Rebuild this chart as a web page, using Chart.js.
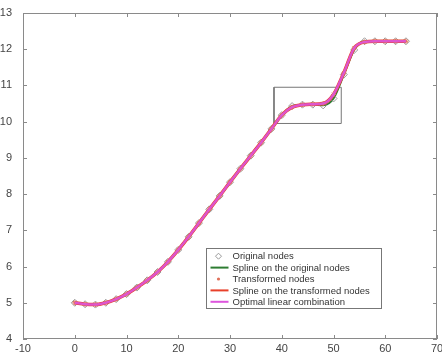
<!DOCTYPE html>
<html lang="en">
<head>
<meta charset="UTF-8">
<title>Spline nodes</title>
<script src="https://cdn.jsdelivr.net/npm/chart.js@4"></script>
<style>
  html, body { margin: 0; padding: 0; background: #fff; overflow: hidden; }
  #wrap { width: 442px; height: 355px; }
</style>
</head>
<body>
<div id="wrap"><canvas id="chart"></canvas></div>
<script>
// node abscissae
const nodeX = [0,2,4,6,8,10,12,14,16,18,20,22,24,26,28,30,32,34,36,38,40,42,44,46,48,50,52,54,56,58,60,62,64];
// original nodes (grey diamonds)
const origY = [5.0,4.96,4.95,5.0,5.1,5.24,5.42,5.62,5.85,6.13,6.46,6.82,7.2,7.58,7.95,8.33,8.7,9.06,9.42,9.8,10.18,10.43,10.47,10.47,10.45,10.64,11.3,11.98,12.22,12.22,12.22,12.22,12.22];
// transformed nodes (follow the curve)
const transY = [5.0,4.96,4.95,5.0,5.1,5.24,5.42,5.62,5.85,6.13,6.46,6.82,7.2,7.58,7.95,8.33,8.7,9.06,9.42,9.8,10.18,10.4,10.47,10.48,10.5,10.75,11.35,12.03,12.2,12.22,12.22,12.22,12.22];
// zoom box corners
const boxX = [38.5,51.5,51.5,38.5,38.5];
const boxY = [9.95,9.95,10.95,10.95,9.95];

const xTicks = [-10,0,10,20,30,40,50,60,70];
const yTicks = [4,5,6,7,8,9,10,11,12,13];

const legendItems = [
  {label: 'Original nodes', kind: 'diamond', color: '#9a9a9a'},
  {label: 'Spline on the original nodes', kind: 'line', color: '#2e7d32'},
  {label: 'Transformed nodes', kind: 'star', color: '#e0705a'},
  {label: 'Spline on the transformed nodes', kind: 'line', color: '#e8402a'},
  {label: 'Optimal linear combination', kind: 'line', color: '#dd55dd'}
];

function pts(xs, ys) { return xs.map((x, i) => ({x: x, y: ys[i]})); }

const FONT = '"Liberation Sans", Arial, sans-serif';

// MATLAB style frame, inward ticks, x labels and legend
const boxTicks = {
  id: 'boxTicks',
  afterDraw(chart) {
    const ctx = chart.ctx, a = chart.chartArea;
    const sx = chart.scales.x, sy = chart.scales.y;
    ctx.save();
    ctx.strokeStyle = '#8a8a8a';
    ctx.lineWidth = 1;
    ctx.strokeRect(a.left + 0.5, a.top + 0.5, a.right - a.left - 1, a.bottom - a.top - 1);
    ctx.beginPath();
    xTicks.forEach(v => {
      const px = Math.round(sx.getPixelForValue(v)) + 0.5;
      ctx.moveTo(px, a.bottom); ctx.lineTo(px, a.bottom - 4);
      ctx.moveTo(px, a.top); ctx.lineTo(px, a.top + 4);
    });
    yTicks.forEach(v => {
      const py = Math.round(sy.getPixelForValue(v)) + 0.5;
      ctx.moveTo(a.left, py); ctx.lineTo(a.left + 4, py);
      ctx.moveTo(a.right, py); ctx.lineTo(a.right - 4, py);
    });
    ctx.stroke();

    // x tick labels
    ctx.fillStyle = '#444';
    ctx.font = '11px ' + FONT;
    ctx.textAlign = 'center';
    ctx.textBaseline = 'middle';
    xTicks.forEach(v => {
      ctx.fillText(String(v), sx.getPixelForValue(v), a.bottom + 10);
    });

    // legend box inside the axes
    ctx.textAlign = 'left';
    const lx = Math.round(sx.getPixelForValue(25.3)) + 0.5;
    const ly = Math.round(sy.getPixelForValue(6.5)) + 0.5;
    const w = 175, rowH = 11.4, h = legendItems.length * rowH + 3;
    ctx.fillStyle = '#fff';
    ctx.fillRect(lx, ly, w, h);
    ctx.strokeStyle = '#777';
    ctx.strokeRect(lx, ly, w, h);
    ctx.font = '9.5px ' + FONT;
    legendItems.forEach((it, i) => {
      const cy = ly + 2 + rowH * (i + 0.5);
      const sxm = lx + 12;
      ctx.strokeStyle = it.color;
      ctx.fillStyle = it.color;
      if (it.kind === 'line') {
        ctx.lineWidth = 2;
        ctx.beginPath(); ctx.moveTo(lx + 4, cy); ctx.lineTo(lx + 22, cy); ctx.stroke();
      } else if (it.kind === 'diamond') {
        ctx.lineWidth = 1;
        ctx.beginPath();
        ctx.moveTo(sxm, cy - 3); ctx.lineTo(sxm + 3, cy); ctx.lineTo(sxm, cy + 3); ctx.lineTo(sxm - 3, cy); ctx.closePath();
        ctx.stroke();
      } else {
        ctx.beginPath(); ctx.arc(sxm, cy, 1.6, 0, Math.PI * 2); ctx.fill();
      }
      ctx.fillStyle = '#333';
      ctx.fillText(it.label, lx + 26, cy + 0.5);
    });
    ctx.restore();
  }
};

new Chart(document.getElementById('chart'), {
  type: 'scatter',
  data: {
    datasets: [
      {
        data: pts(boxX, boxY), showLine: true, tension: 0,
        borderColor: '#777', borderWidth: 1, pointRadius: 0, order: 5
      },
      {
        label: 'Spline on the original nodes',
        data: pts(nodeX, origY), showLine: true, cubicInterpolationMode: 'monotone',
        borderColor: '#2e7d32', borderWidth: 2, pointRadius: 0, order: 4
      },
      {
        label: 'Original nodes',
        data: pts(nodeX, origY), showLine: false,
        pointStyle: 'rectRot', pointRadius: 3.5, borderColor: '#9a9a9a', borderWidth: 1,
        backgroundColor: 'rgba(0,0,0,0)', order: 3
      },
      {
        label: 'Spline on the transformed nodes',
        data: pts(nodeX, transY), showLine: true, cubicInterpolationMode: 'monotone',
        borderColor: '#e8402a', borderWidth: 3.5, pointRadius: 0, order: 2
      },
      {
        label: 'Transformed nodes',
        data: pts(nodeX, transY), showLine: false,
        pointStyle: 'star', pointRadius: 2.5, borderColor: '#e0705a', borderWidth: 1, order: 1
      },
      {
        label: 'Optimal linear combination',
        data: pts(nodeX, transY), showLine: true, cubicInterpolationMode: 'monotone',
        borderColor: 'rgba(221,85,221,0.9)', borderWidth: 2.5, pointRadius: 0, order: 0
      }
    ]
  },
  options: {
    responsive: true,
    maintainAspectRatio: false,
    animation: false,
    layout: { padding: { top: 13, right: 2, left: 0, bottom: 0 } },
    plugins: { legend: { display: false }, tooltip: { enabled: false } },
    scales: {
      x: {
        type: 'linear', min: -10, max: 70,
        afterBuildTicks: s => { s.ticks = xTicks.map(v => ({value: v})); },
        afterFit: s => { s.height = 16; },
        border: { display: false },
        grid: { display: false },
        ticks: { display: false }
      },
      y: {
        type: 'linear', min: 4, max: 13,
        afterBuildTicks: s => { s.ticks = yTicks.map(v => ({value: v})); },
        afterFit: s => { s.width = 23; },
        border: { display: false },
        grid: { display: false },
        ticks: { color: '#444', font: { size: 11, family: FONT }, padding: 3 }
      }
    }
  },
  plugins: [boxTicks]
});
</script>
</body>
</html>
